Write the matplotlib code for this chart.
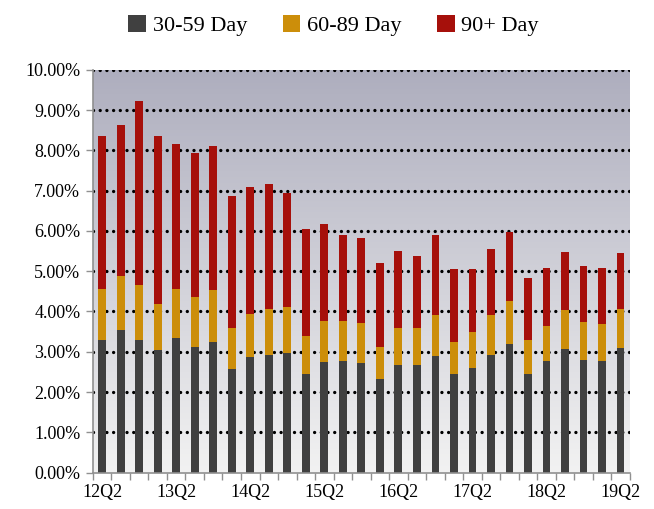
import matplotlib.pyplot as plt
import numpy as np

plt.rcParams['font.family'] = ['Liberation Serif', 'DejaVu Serif']

# ---------------------------------------------------------
# data (percent of balances, top of each stack)
quarters = ['12Q2', '12Q3', '12Q4', '13Q1', '13Q2', '13Q3', '13Q4', '14Q1',
            '14Q2', '14Q3', '14Q4', '15Q1', '15Q2', '15Q3', '15Q4', '16Q1',
            '16Q2', '16Q3', '16Q4', '17Q1', '17Q2', '17Q3', '17Q4', '18Q1',
            '18Q2', '18Q3', '18Q4', '19Q1', '19Q2']

d30 = [3.29, 3.54, 3.28, 3.05, 3.35, 3.13, 3.25, 2.57, 2.87, 2.93,
       2.96, 2.44, 2.74, 2.76, 2.72, 2.33, 2.67, 2.66, 2.90, 2.44,
       2.59, 2.91, 3.20, 2.45, 2.76, 3.06, 2.80, 2.76, 3.09]
top60 = [4.55, 4.89, 4.66, 4.18, 4.56, 4.36, 4.54, 3.58, 3.94, 4.07,
         4.12, 3.38, 3.76, 3.76, 3.72, 3.13, 3.58, 3.59, 3.91, 3.25,
         3.48, 3.91, 4.26, 3.30, 3.64, 4.03, 3.74, 3.70, 4.07]
top90 = [8.35, 8.63, 9.22, 8.36, 8.15, 7.93, 8.10, 6.87, 7.09, 7.16,
         6.95, 6.05, 6.17, 5.91, 5.83, 5.20, 5.50, 5.39, 5.89, 5.06,
         5.05, 5.55, 5.97, 4.84, 5.09, 5.49, 5.13, 5.09, 5.46]

d60 = np.array(top60) - np.array(d30)
d90 = np.array(top90) - np.array(top60)

# ---------------------------------------------------------
fig = plt.figure(figsize=(6.54, 5.09), dpi=100)
ax = fig.add_axes([0.142, 0.0717, 0.821, 0.7908])

x = np.arange(len(quarters))
ax.set_xlim(-0.5, len(quarters) - 0.5)
ax.set_ylim(0, 10)

# background gradient (lavender grey on top, light grey at bottom)
top_c = np.array([0xAE, 0xAE, 0xBE]) / 255
bot_c = np.array([0xF2, 0xF2, 0xF2]) / 255
t = np.linspace(0, 1, 256)[:, None]
grad = (top_c * (1 - t) + bot_c * t)[:, None, :]
ax.imshow(grad, extent=[-0.5, len(quarters) - 0.5, 0, 10], aspect='auto',
          zorder=0, origin='upper')

for yv in np.arange(1, 11):
    ax.axhline(yv, color='black', lw=2.4, linestyle=(0, (0.01, 2.0)),
               dash_capstyle='round', zorder=1)

w = 0.42
ax.bar(x, d30, w, color='#404040', label='30-59 Day', zorder=2)
ax.bar(x, d60, w, bottom=d30, color='#CC8E0A', label='60-89 Day', zorder=2)
ax.bar(x, d90, w, bottom=top60, color='#A6100B', label='90+ Day', zorder=2)

ax.set_yticks(np.arange(0, 11))
ax.set_yticklabels(['%.2f%%' % v for v in np.arange(0, 11)], fontsize=13)
ax.set_xticks(x[::4])
ax.set_xticklabels(quarters[::4], fontsize=13)
ax.set_xticks(np.arange(-0.5, len(quarters)), minor=True)
ax.tick_params(axis='x', which='major', length=0, pad=8)
ax.tick_params(axis='x', which='minor', length=5, color='#909090', width=1)
ax.tick_params(axis='y', length=5, color='#909090', width=1, pad=4)

for s in ['top', 'right']:
    ax.spines[s].set_visible(False)
for s in ['left', 'bottom']:
    ax.spines[s].set_color('#909090')
    ax.spines[s].set_linewidth(1.2)

fig.legend(loc='upper center', bbox_to_anchor=(0.51, 1.01), ncol=3,
           frameon=False, fontsize=16, handlelength=0.8, handleheight=0.8,
           handletextpad=0.3, columnspacing=1.6)

plt.savefig('out.png', dpi=100)
